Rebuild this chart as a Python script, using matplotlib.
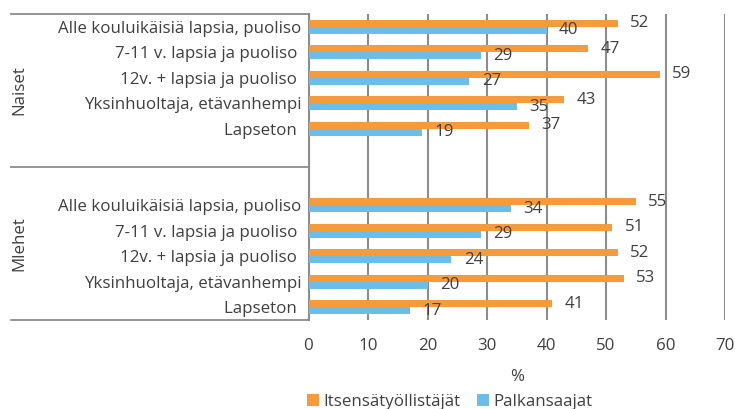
import matplotlib.pyplot as plt
from matplotlib.transforms import blended_transform_factory

# Categories and shares (%) for the two groups
categories = ['Alle kouluikäisiä lapsia, puoliso', '7-11 v. lapsia ja puoliso ',
              '12v. + lapsia ja puoliso ', 'Yksinhuoltaja, etävanhempi', 'Lapseton ']
groups = ['Naiset', 'Mlehet']
naiset_itse = [52, 47, 59, 43, 37]
naiset_palk = [40, 29, 27, 35, 19]
miehet_itse = [55, 51, 52, 53, 41]
miehet_palk = [34, 29, 24, 20, 17]

plt.rcParams['font.family'] = ['Open Sans', 'DejaVu Sans']
txt = '#404040'
orange = '#F79A3A'
blue = '#6CBEEA'
grid = '#8C8C8C'
fs = 12.2

# 12 slots: 5 categories + 1 empty slot per group
pos_n = [0, 1, 2, 3, 4]
pos_m = [7, 8, 9, 10, 11]
pos = pos_n + pos_m
itse = naiset_itse + miehet_itse
palk = naiset_palk + miehet_palk

fig = plt.figure(figsize=(7.35, 4.09), dpi=100)
ax = fig.add_axes([308.5 / 735, 1 - 320 / 409, (725 - 308.5) / 735, 306 / 409])

h = 0.27
b1 = ax.barh([p - h / 2 for p in pos], itse, height=h, color=orange, label='Itsensätyöllistäjät', zorder=3)
b2 = ax.barh([p + h / 2 for p in pos], palk, height=h, color=blue, label='Palkansaajat', zorder=3)

for bars, vals in ((b1, itse), (b2, palk)):
    for bar, v in zip(bars, vals):
        ax.annotate(str(v), (bar.get_width(), bar.get_y() + bar.get_height() / 2),
                    xytext=(9, 0), textcoords='offset points', va='center', ha='left',
                    fontsize=fs, color=txt, zorder=4)

ax.set_xlim(0, 70)
ax.set_ylim(11.5, -0.5)
ax.set_xticks(range(0, 71, 10))
ax.set_yticks(pos)
ax.set_yticklabels(categories * 2)
ax.tick_params(axis='y', length=0, pad=5, labelsize=fs, labelcolor=txt)
ax.tick_params(axis='x', length=0, pad=13, labelsize=fs, labelcolor=txt)
ax.xaxis.grid(True, color=grid, linewidth=1.5)
ax.set_axisbelow(True)
for s in ('top', 'right', 'bottom'):
    ax.spines[s].set_visible(False)
ax.spines['left'].set_color(grid)
ax.spines['left'].set_linewidth(1.5)
ax.set_xlabel('%', fontsize=fs, color=txt, labelpad=11)

# group dividers and labels on the category axis
tr = blended_transform_factory(ax.transAxes, ax.transData)
for y in (-0.5, 5.5, 11.5):
    ax.plot([-0.714, 0], [y, y], transform=tr, color=grid, lw=1.3, clip_on=False)
for g, c in zip(groups, (2.5, 8.5)):
    ax.text(-0.695, c, g, transform=tr, rotation=90, ha='center', va='center',
            fontsize=fs, color=txt)

fig.legend(loc='center left', bbox_to_anchor=(307 / 735, 1 - 402 / 409), ncol=2, frameon=False,
           fontsize=fs, labelcolor=txt, handlelength=0.7, handleheight=0.7,
           handletextpad=0.25, columnspacing=1.0, borderaxespad=0, borderpad=0)

fig.savefig('out.png', dpi=100)
